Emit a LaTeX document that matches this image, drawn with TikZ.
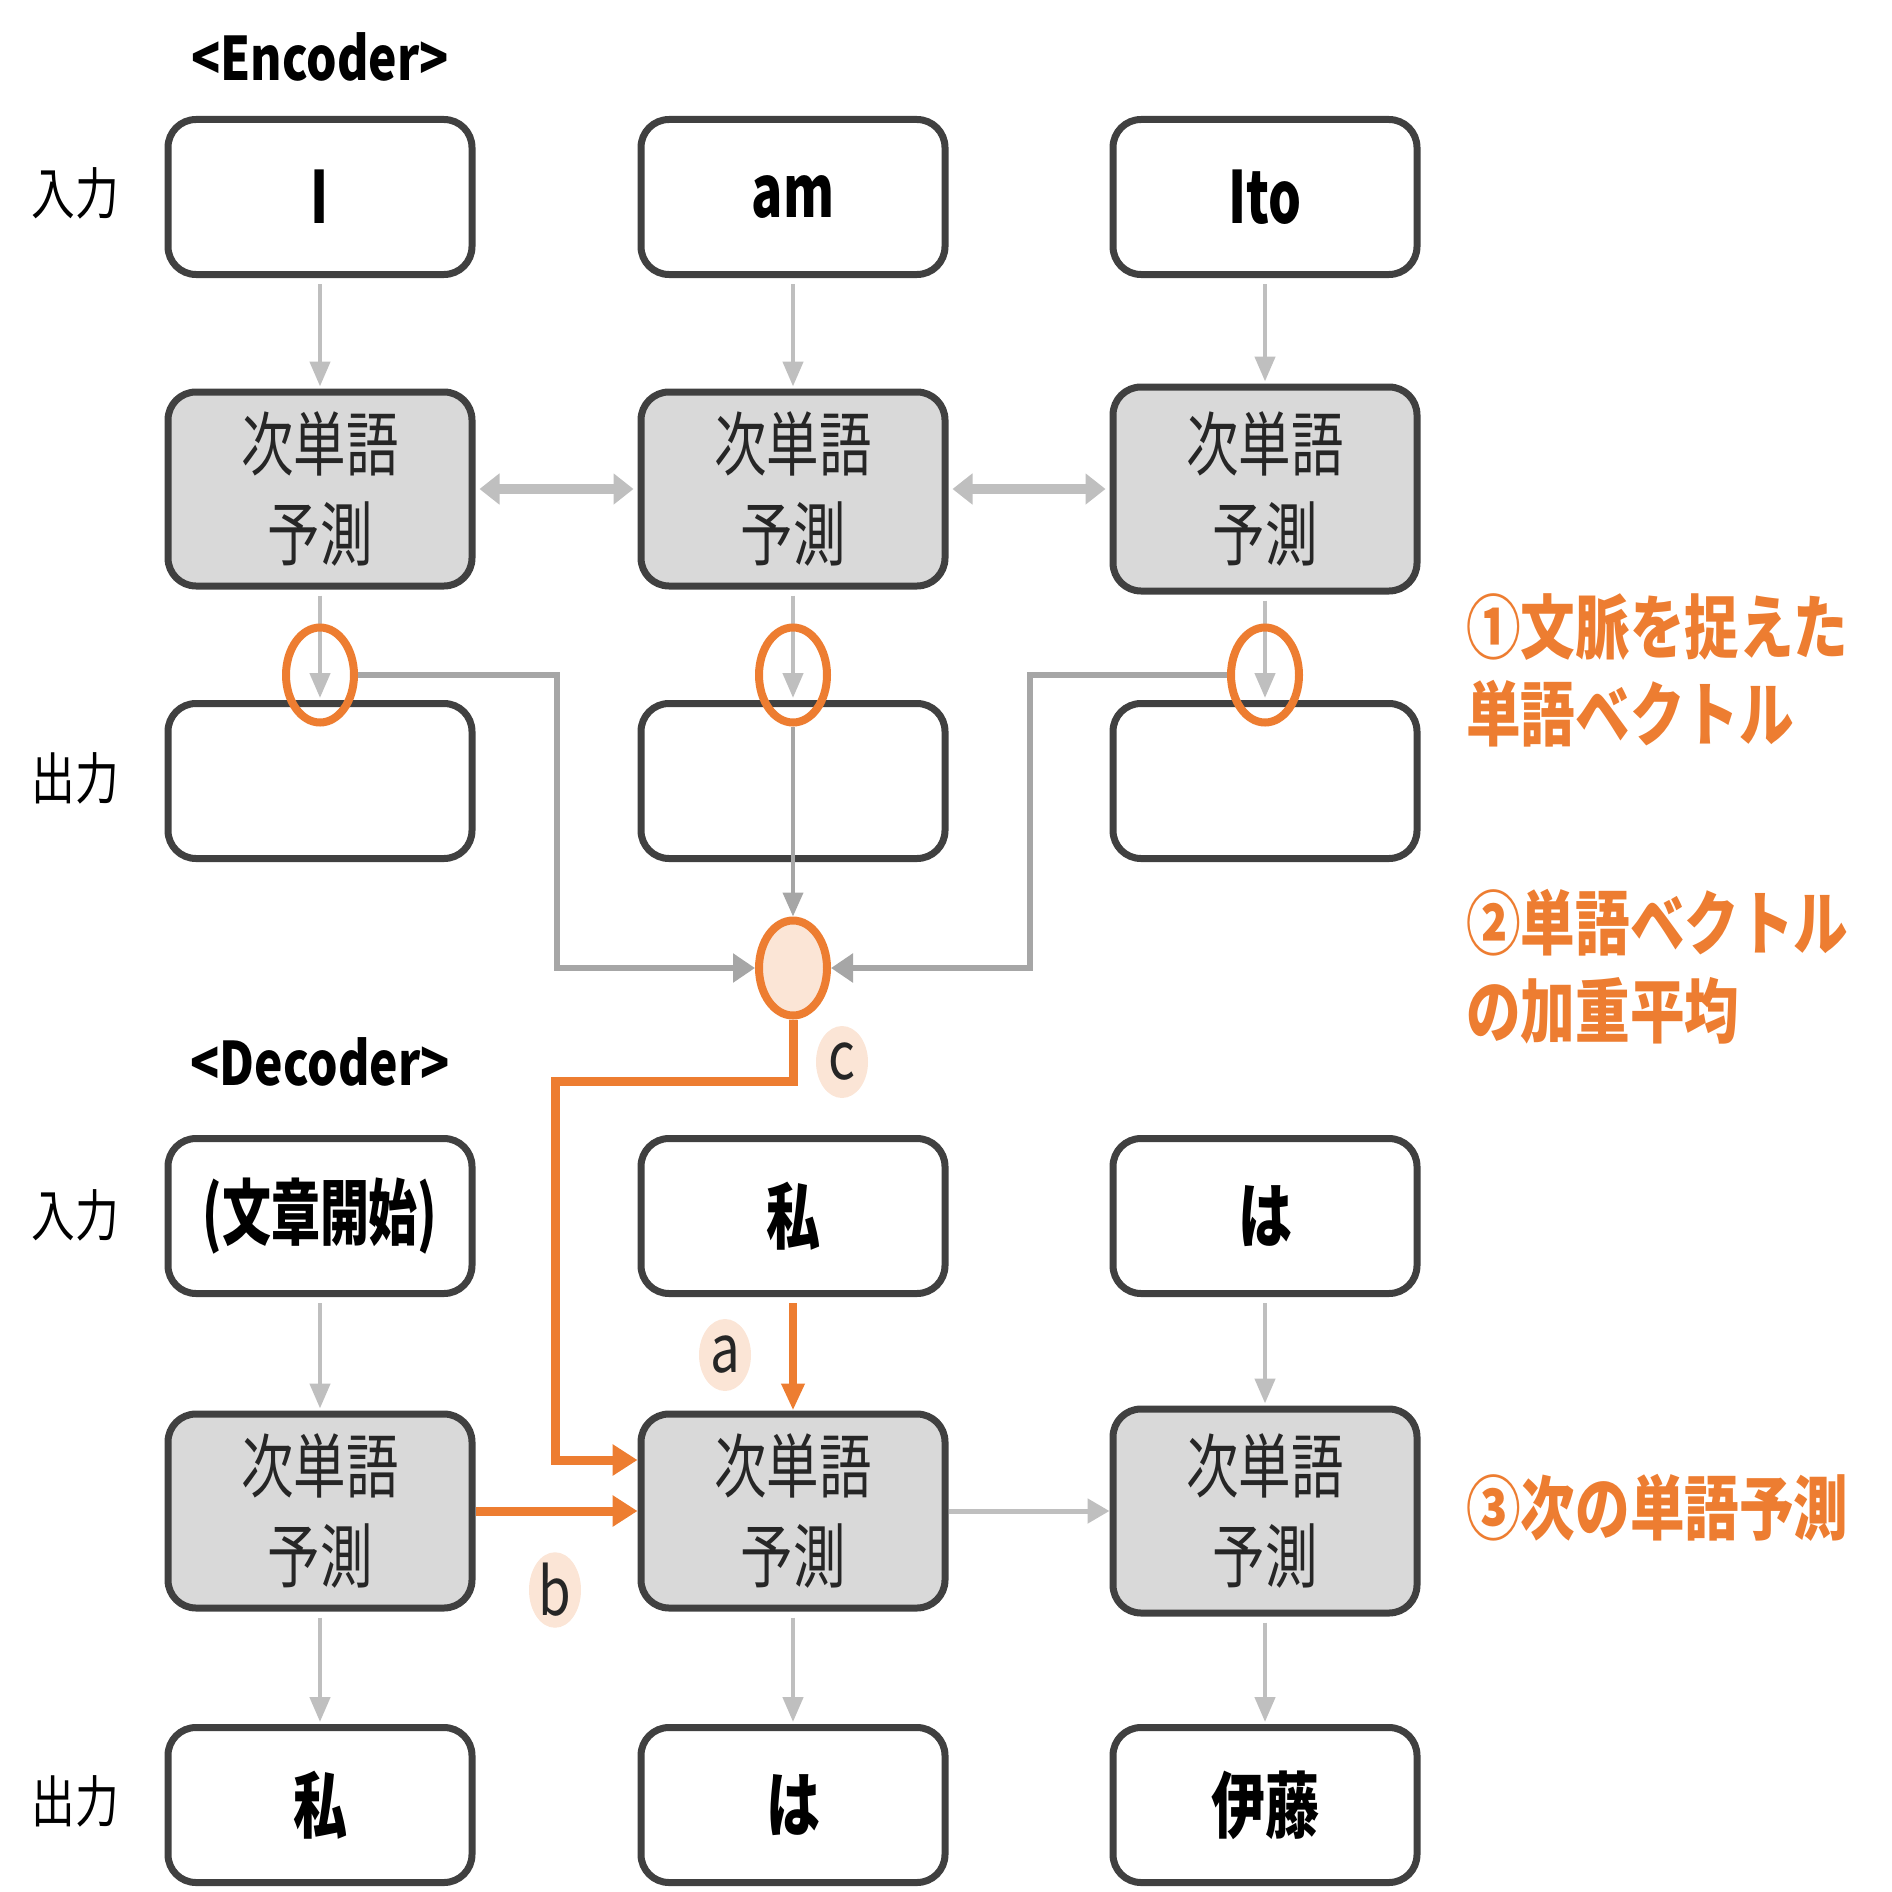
\documentclass[tikz,border=0pt]{standalone}
\usepackage{fontspec}
\setmainfont{Noto Sans CJK JP}
\usetikzlibrary{shapes.geometric,arrows.meta}
\definecolor{boxline}{HTML}{404040}
\definecolor{boxfill}{HTML}{D9D9D9}
\definecolor{arrgray}{HTML}{BFBFBF}
\definecolor{conngray}{HTML}{A6A6A6}
\definecolor{orng}{HTML}{ED7D31}
\definecolor{peach}{HTML}{FBE5D6}
\newcommand\hsc[2]{\scalebox{#1}[1]{#2}}
\tikzset{
  wbox/.style={draw=boxline, line width=7pt, rounded corners=28pt, fill=white,
    minimum width=304pt, minimum height=155pt, inner sep=0pt,
    font=\fontsize{72}{86}\selectfont\bfseries},
  gbox/.style={wbox, fill=boxfill, minimum height=194pt,
    font=\fontsize{70}{90}\selectfont, align=center, text=black!85},
  garrow/.style={draw=arrgray, line width=4.5pt, shorten <=6pt, shorten >=2pt,
    -{Triangle[length=25pt,width=20pt]}},
  dblarrow/.style={draw=arrgray, line width=10pt, shorten <=4pt, shorten >=4pt,
    {Triangle[length=20pt,width=30pt]}-{Triangle[length=20pt,width=30pt]}},
  conn/.style={draw=conngray, line width=6pt, -{Triangle[length=22pt,width=28pt]}},
  oarrow/.style={draw=orng, line width=9pt, -{Triangle[length=25pt,width=30pt]}},
  oring/.style={ellipse, draw=orng, line width=8pt, minimum width=68pt, minimum height=95pt, inner sep=0pt},
  sidelab/.style={font=\fontsize{56}{60}\selectfont, text=black},
  head/.style={font=\fontsize{60}{66}\selectfont\bfseries},
  note/.style={anchor=west, font=\fontsize{70}{80}\selectfont\bfseries, text=orng, inner sep=0pt},
  letlab/.style={ellipse, fill=peach, minimum width=52pt, minimum height=72pt, inner sep=0pt,
    font=\fontsize{66}{70}\selectfont, text=black!85},
}
\begin{document}
\begin{tikzpicture}[x=1pt, y=-1pt]
\useasboundingbox (0,0) rectangle (1892,1892);

% headings and side labels
\node[head] (enc) at (320,57) {\hsc{0.8}{<Encoder>}};
\node[head] (dec) at (320,1062) {\hsc{0.8}{<Decoder>}};
\node[sidelab] (in1) at (75,193) {\hsc{0.78}{入力}};
\node[sidelab] (out1) at (75,778) {\hsc{0.78}{出力}};
\node[sidelab] (in2) at (75,1215) {\hsc{0.78}{入力}};
\node[sidelab] (out2) at (75,1801) {\hsc{0.78}{出力}};

% encoder
\node[wbox] (ei1) at (320,197) {\hsc{0.72}{I}};
\node[wbox] (ei2) at (793,197) {\hsc{0.72}{am}};
\node[wbox] (ei3) at (1265,197) {\hsc{0.72}{Ito}};
\node[gbox] (eg1) at (320,489) {\hsc{0.75}{次単語}\\\hsc{0.75}{予測}};
\node[gbox] (eg2) at (793,489) {\hsc{0.75}{次単語}\\\hsc{0.75}{予測}};
\node[gbox, minimum height=204pt] (eg3) at (1265,489) {\hsc{0.75}{次単語}\\\hsc{0.75}{予測}};
\node[wbox] (eo1) at (320,781) {};
\node[wbox] (eo2) at (793,781) {};
\node[wbox] (eo3) at (1265,781) {};

\draw[garrow] (ei1.south) -- (eg1.north);
\draw[garrow] (ei2.south) -- (eg2.north);
\draw[garrow] (ei3.south) -- (eg3.north);
\draw[dblarrow] (eg1.east) -- (eg2.west);
\draw[dblarrow] (eg2.east) -- (eg3.west);
\draw[garrow] (eg1.south) -- (eo1.north);
\draw[garrow] (eg2.south) -- (eo2.north);
\draw[garrow] (eg3.south) -- (eo3.north);

% attention circles
\node[oring] (c1) at (320,675) {};
\node[oring] (c2) at (793,675) {};
\node[oring] (c3) at (1265,675) {};
\node[oring, fill=peach] (cc) at (793,968) {};

\coordinate (jl) at (557,968);
\coordinate (jr) at (1030,968);
\draw[conn] (c1.east) -| (jl) -- (cc.west);
\draw[conn] (c3.west) -| (jr) -- (cc.east);
\draw[draw=conngray, line width=4pt, -{Triangle[length=24pt,width=20pt]}] (c2.south) -- (cc.north);

% decoder
\node[wbox] (di1) at (320,1216) {\hsc{0.68}{(文章開始)}};
\node[wbox] (di2) at (793,1216) {\hsc{0.75}{私}};
\node[wbox] (di3) at (1265,1216) {\hsc{0.75}{は}};
\node[gbox] (dg1) at (320,1511) {\hsc{0.75}{次単語}\\\hsc{0.75}{予測}};
\node[gbox] (dg2) at (793,1511) {\hsc{0.75}{次単語}\\\hsc{0.75}{予測}};
\node[gbox, minimum height=204pt] (dg3) at (1265,1511) {\hsc{0.75}{次単語}\\\hsc{0.75}{予測}};
\node[wbox] (do1) at (320,1805) {\hsc{0.75}{私}};
\node[wbox] (do2) at (793,1805) {\hsc{0.75}{は}};
\node[wbox] (do3) at (1265,1805) {\hsc{0.75}{伊藤}};

\draw[garrow] (di1.south) -- (dg1.north);
\draw[garrow] (di3.south) -- (dg3.north);
\draw[garrow] (dg1.south) -- (do1.north);
\draw[garrow] (dg2.south) -- (do2.north);
\draw[garrow] (dg3.south) -- (do3.north);
\draw[oarrow, line width=8pt, -{Triangle[length=27pt,width=22pt]}, shorten <=6pt] (di2.south) -- (dg2.north);
\draw[oarrow] (dg1.east) -- (dg2.west);
\draw[draw=arrgray, line width=5pt, -{Triangle[length=22pt,width=24pt]}] (dg2.east) -- (dg3.west);

% orange context path
\coordinate (ob1) at (793,1081);
\coordinate (ob2) at (555,1460);
\draw[oarrow] (cc.south) -- (ob1) -| (ob2) -- (ob2 -| dg2.west);

% letter labels
\node[letlab] (la) at (725,1355) {\hsc{0.8}{a}};
\node[letlab] (lb) at (555,1590) {\hsc{0.8}{b}};
\node[letlab] (lc) at (842,1062) {\hsc{0.8}{c}};

% notes
\node[note] (n1a) at (1466,627) {\hsc{0.78}{①文脈を捉えた}};
\node[note] (n1b) at (1466,714) {\hsc{0.78}{単語ベクトル}};
\node[note] (n2a) at (1466,923) {\hsc{0.78}{②単語ベクトル}};
\node[note] (n2b) at (1466,1011) {\hsc{0.78}{の加重平均}};
\node[note] (n3) at (1466,1508) {\hsc{0.78}{③次の単語予測}};
\end{tikzpicture}
\end{document}
